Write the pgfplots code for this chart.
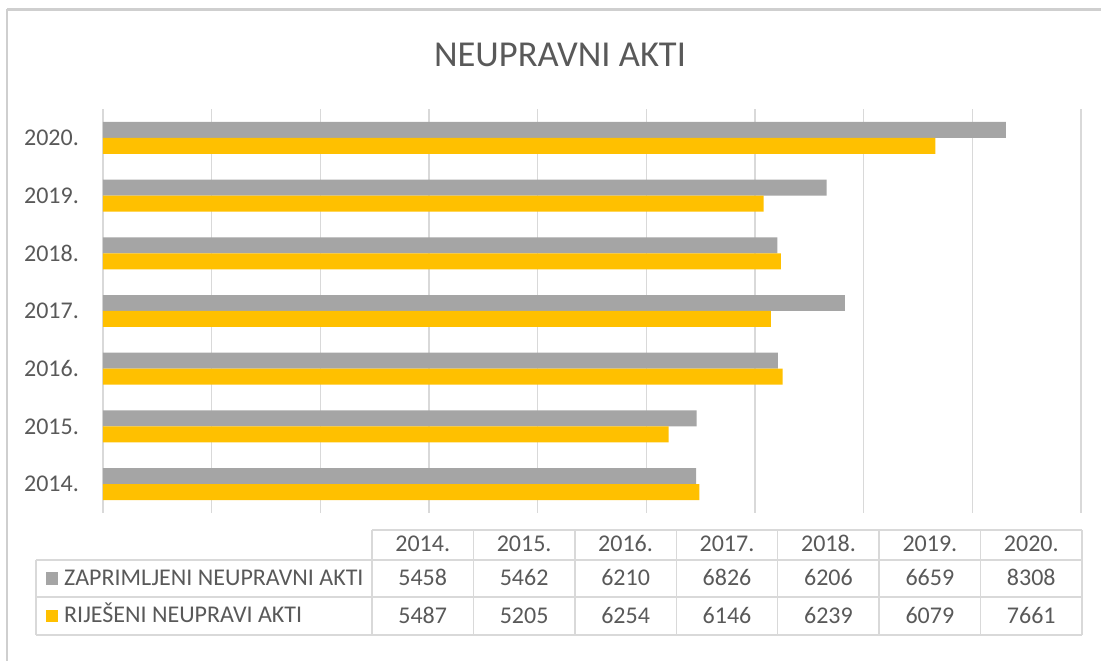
\documentclass[border=0pt]{standalone}
\usepackage{pgfplots}
\usepackage{pgfplotstable}
\pgfplotsset{compat=1.18}
\usepackage{fontspec}
\setmainfont{Carlito}

\definecolor{barGray}{HTML}{A5A5A5}
\definecolor{barGold}{HTML}{FFC000}
\definecolor{txt}{HTML}{595959}
\definecolor{rule}{HTML}{D9D9D9}
\definecolor{frame}{HTML}{CFCFCF}

% idx: position on the category axis (0 = bottom)
\pgfplotstableread{
idx year zap  rij
0   2014 5458 5487
1   2015 5462 5205
2   2016 6210 6254
3   2017 6826 6146
4   2018 6206 6239
5   2019 6659 6079
6   2020 8308 7661
}\datatable

\newcommand{\lbl}{\fontsize{24pt}{28pt}\selectfont\color{txt}}

\begin{document}
\begin{tikzpicture}[x=1pt,y=1pt]
\path[use as bounding box] (0,0) rectangle (1101,661);

% chart frame (top and left edge visible)
\draw[frame, line width=3pt] (7,651.5) -- (1101,651.5);
\draw[frame, line width=2pt] (7,652) -- (7,0);

% title
\node[anchor=base, inner sep=0pt, font=\fontsize{36.5pt}{40pt}\selectfont, text=txt] at (560,594) {NEUPRAVNI AKTI};

\begin{axis}[
    anchor=south west, at={(103pt,148pt)},
    width=978pt, height=404pt, scale only axis,
    xmin=0, xmax=9000, ymin=-0.5, ymax=6.5,
    xtick={0,1000,...,9000}, xticklabels={},
    ytick={0,...,6},
    yticklabels={2014.,2015.,2016.,2017.,2018.,2019.,2020.},
    yticklabel style={anchor=east, inner sep=0pt, xshift=-24pt, font=\lbl},
    xmajorgrids,
    major grid style={draw=rule, line width=1.4pt},
    axis line style={draw=none},
    tick style={draw=none},
    major tick length=0pt,
    xbar, bar width=0.277,
]
\addplot[xbar, fill=barGray, draw=none, bar shift=0.1385] table[x=zap, y=idx] {\datatable};
\addplot[xbar, fill=barGold, draw=none, bar shift=-0.1385] table[x=rij, y=idx] {\datatable};
\end{axis}

% data table below the chart
\begin{scope}[rule, line width=1.4pt]
\draw (372,131) -- (1082,131);
\foreach \yy in {101,64,26} \draw (36,\yy) -- (1082,\yy);
\draw (36,26) -- (36,101);
\foreach \k in {0,...,7} \draw ({372+101.43*\k},26) -- ({372+101.43*\k},131);
\end{scope}

\foreach \k in {0,...,6} {
  \pgfplotstablegetelem{\k}{year}\of\datatable
  \node[anchor=base, inner sep=0pt, font=\lbl] at ({372+101.43*(\k+0.5)},109) {\pgfplotsretval.};
  \pgfplotstablegetelem{\k}{zap}\of\datatable
  \node[anchor=base, inner sep=0pt, font=\lbl] at ({372+101.43*(\k+0.5)},75) {\pgfplotsretval};
  \pgfplotstablegetelem{\k}{rij}\of\datatable
  \node[anchor=base, inner sep=0pt, font=\lbl] at ({372+101.43*(\k+0.5)},37) {\pgfplotsretval};
}

% legend keys and series names
\fill[barGray] (46,76) rectangle (58,89);
\fill[barGold] (46,39) rectangle (58,51);
\node[anchor=base west, inner sep=0pt, font=\lbl] at (64,75) {ZAPRIMLJENI NEUPRAVNI AKTI};
\node[anchor=base west, inner sep=0pt, font=\lbl] at (64,38) {RIJEŠENI NEUPRAVI AKTI};
\end{tikzpicture}
\end{document}
